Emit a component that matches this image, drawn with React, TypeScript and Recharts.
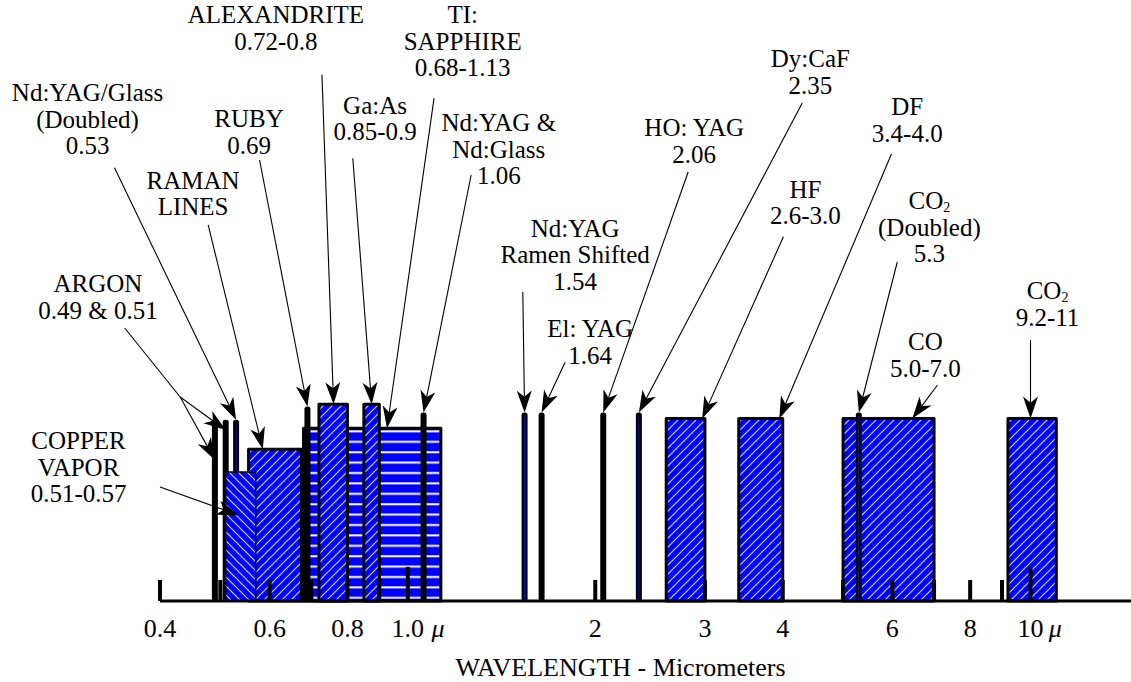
import React from 'react';
import { ComposedChart, XAxis, YAxis, ReferenceArea, ReferenceLine, ReferenceDot } from 'recharts';

// tunable lasers: band start / end in micrometers, bar height in relative units
const bandNames = ['TI: SAPPHIRE', 'RAMAN LINES', 'ALEXANDRITE', 'Ga:As', 'HF', 'DF', 'CO', 'CO2'];
const bandFrom = [0.68, 0.555, 0.72, 0.85, 2.6, 3.4, 5.0, 9.2];
const bandTo = [1.13, 0.675, 0.8, 0.9, 3.0, 4.0, 7.0, 11];
const bandHeight = [28.8, 25.3, 32.8, 32.8, 30.4, 30.4, 30.4, 30.4];

// copper vapor band sits in front of the argon / doubled lines
const copperFrom = 0.51;
const copperTo = 0.57;
const copperHeight = 21.5;

// single-line lasers
const lineNames = ['ARGON 0.49', 'ARGON 0.51', 'Nd:YAG/Glass doubled', 'RUBY', 'Nd:YAG & Nd:Glass', 'Nd:YAG Raman shifted', 'El: YAG', 'HO: YAG', 'Dy:CaF', 'CO2 doubled'];
const lineWave = [0.49, 0.51, 0.53, 0.69, 1.06, 1.54, 1.64, 2.06, 2.35, 5.3];
const lineHeight = [29.9, 30.2, 30.2, 32.4, 31.4, 31.4, 31.4, 31.4, 31.4, 31.4];

const tickValues = [0.4, 0.6, 0.8, 1, 2, 3, 4, 6, 8, 10];
const tickLabels = ['0.4', '0.6', '0.8', '1.0', '2', '3', '4', '6', '8', '10'];
const minorTicks = [0.4, 0.5, 0.6, 0.7, 0.8, 0.9, 2, 3, 4, 5, 6, 7, 8, 9];
const majorTicks = [1, 10];
const axisTitle = 'WAVELENGTH - Micrometers';

// callout text, one string per line ("_2" ends a line with subscript 2)
const noteText: string[][] = [
  ['ALEXANDRITE', '0.72-0.8'],
  ['TI:', 'SAPPHIRE', '0.68-1.13'],
  ['Nd:YAG/Glass', '(Doubled)', '0.53'],
  ['RUBY', '0.69'],
  ['Ga:As', '0.85-0.9'],
  ['Nd:YAG &', 'Nd:Glass', '1.06'],
  ['RAMAN', 'LINES'],
  ['Dy:CaF', '2.35'],
  ['HO: YAG', '2.06'],
  ['DF', '3.4-4.0'],
  ['HF', '2.6-3.0'],
  ['Nd:YAG', 'Ramen Shifted', '1.54'],
  ['CO_2', '(Doubled)', '5.3'],
  ['ARGON', '0.49 & 0.51'],
  ['El: YAG', '1.64'],
  ['CO_2', '9.2-11'],
  ['CO', '5.0-7.0'],
  ['COPPER', 'VAPOR', '0.51-0.57'],
];

// --- layout (axis units: µm, relative height) ---
const noteAt: [number, number][] = [
  [0.614, 96.3], [1.225, 96.3], [0.306, 83.3], [0.556, 79], [0.886, 81.2], [1.4, 78.3],
  [0.452, 68.7], [4.43, 89], [2.884, 77.5], [6.34, 81], [4.35, 67.2], [1.857, 60.7],
  [6.88, 65.3], [0.318, 51.5], [1.963, 44], [10.65, 50.3], [6.78, 41.8], [0.296, 25.3],
];

type Target = { band?: number; line?: number; copper?: boolean; x?: number; y?: number };
const arrows: { from: [number, number]; to: Target }[] = [
  { from: [0.728, 87.7], to: { band: 2, x: 0.76 } },
  { from: [1.102, 83.8], to: { band: 0, x: 0.926 } },
  { from: [0.338, 72.2], to: { line: 2 } },
  { from: [0.578, 73.5], to: { line: 3 } },
  { from: [0.816, 73.8], to: { band: 3, x: 0.875 } },
  { from: [1.264, 71], to: { line: 4 } },
  { from: [0.478, 62.7], to: { band: 1, x: 0.585 } },
  { from: [4.3, 83], to: { line: 8 } },
  { from: [2.82, 71.5], to: { line: 7 } },
  { from: [5.98, 74.5], to: { band: 5, x: 3.95 } },
  { from: [4.01, 60.7], to: { band: 4, x: 2.97 } },
  { from: [1.53, 51.5], to: { line: 5 } },
  { from: [6.11, 56.5], to: { line: 9 } },
  { from: [0.431, 34], to: { line: 0, y: 23.5 } },
  { from: [0.431, 34], to: { line: 1, y: 28.5 } },
  { from: [1.789, 39.8], to: { line: 6 } },
  { from: [10.0, 43.5], to: { band: 7, x: 10 } },
  { from: [7.09, 36], to: { band: 6, x: 6.46 } },
  { from: [0.4, 19], to: { copper: true, x: 0.535, y: 14.3 } },
];
const leaders: [number, number][][] = [[[0.351, 45.5], [0.431, 34]]];

const FONT = 'Liberation Serif, Times New Roman, serif';
const BLUE = '#0000ff';
const coredLines = new Set(['Nd:YAG/Glass doubled', 'Nd:YAG Raman shifted', 'Dy:CaF', 'CO2 doubled']);
const bandFill: Record<string, string> = { 'TI: SAPPHIRE': 'url(#hLines)' };
const textStyle = { fontFamily: FONT };

function targetPoint(t: Target): [number, number] {
  if (t.copper) return [t.x ?? (copperFrom + copperTo) / 2, t.y ?? copperHeight];
  if (t.band !== undefined) return [t.x ?? (bandFrom[t.band] + bandTo[t.band]) / 2, t.y ?? bandHeight[t.band]];
  const i = t.line as number;
  return [t.x ?? lineWave[i], t.y ?? lineHeight[i]];
}

const arrowShape = (p: any) => {
  const { x1, y1, x2, y2 } = p;
  const len = Math.hypot(x2 - x1, y2 - y1) || 1;
  const ux = (x2 - x1) / len, uy = (y2 - y1) / len;
  const L = 22, W = 7.5;
  const bx = x2 - ux * L, by = y2 - uy * L;
  const nx = x2 - ux * L * 0.72, ny = y2 - uy * L * 0.72;
  const pts = `${x2},${y2} ${bx - uy * W},${by + ux * W} ${nx},${ny} ${bx + uy * W},${by - ux * W}`;
  return (
    <g>
      <line x1={x1} y1={y1} x2={nx} y2={ny} stroke="#000" strokeWidth={1.1} />
      <polygon points={pts} fill="#000" />
    </g>
  );
};

const laserShape = (cored: boolean) => (p: any) => {
  const { x1, y1, y2 } = p;
  const top = Math.min(y1, y2), bottom = Math.max(y1, y2);
  return (
    <g>
      <rect x={x1 - 3} y={top} width={6} height={bottom - top} rx={2.5} fill="#000" />
      {cored && <line x1={x1} x2={x1} y1={top + 4} y2={bottom - 2} stroke="#1010d0" strokeWidth={0.9} />}
    </g>
  );
};

const noteShape = (lines: string[]) => (p: any) => (
  <g>
    {lines.map((ln, i) => (
      <text key={i} x={p.cx} y={p.cy + i * 26.5} textAnchor="middle" style={textStyle} fontSize={25} fill="#000">
        {ln.endsWith('_2') ? (
          <>
            {ln.slice(0, -2)}
            <tspan fontSize={14} dy={3}>2</tspan>
          </>
        ) : ln}
      </text>
    ))}
  </g>
);

function WaveTick({ x, y, payload }: any) {
  const i = tickValues.indexOf(payload.value);
  const label = i >= 0 ? tickLabels[i] : String(payload.value);
  const mu = payload.value === 1 || payload.value === 10;
  return (
    <g>
      <text x={x} y={y + 36} textAnchor="middle" style={textStyle} fontSize={26} fill="#000">{label}</text>
      {mu && (
        <text x={x + label.length * 5.6 + 7} y={y + 36} style={textStyle} fontSize={26} fontStyle="italic" fill="#000">μ</text>
      )}
    </g>
  );
}

export default function App() {
  return (
    <div style={{ position: 'absolute', left: 0, top: 0, background: '#fff' }}>
      <ComposedChart width={1131} height={682} margin={{ top: 1, right: 0, bottom: 0, left: 160 }}>
        <defs>
          <pattern id="hatchUp" patternUnits="userSpaceOnUse" width="9" height="9">
            <rect width="9" height="9" fill={BLUE} />
            <path d="M-1,1 l2,-2 M0,9 l9,-9 M8,10 l2,-2" stroke="#c9d2ff" strokeWidth="1.2" />
          </pattern>
          <pattern id="hatchDown" patternUnits="userSpaceOnUse" width="9" height="9">
            <rect width="9" height="9" fill={BLUE} />
            <path d="M-1,8 l2,2 M0,0 l9,9 M8,-1 l2,2" stroke="#c9d2ff" strokeWidth="1.2" />
          </pattern>
          <pattern id="hLines" patternUnits="userSpaceOnUse" width="10" height="10.4">
            <rect width="10" height="10.4" fill={BLUE} />
            <rect y="4" width="10" height="2" fill="#fff" />
          </pattern>
        </defs>
        <XAxis
          type="number"
          dataKey="x"
          scale="log"
          domain={[0.4, 14.5]}
          allowDataOverflow
          ticks={tickValues}
          interval={0}
          tick={<WaveTick />}
          tickLine={false}
          tickSize={0}
          tickMargin={0}
          axisLine={{ stroke: '#000', strokeWidth: 3 }}
          height={81}
          label={{
            content: (p: any) => {
              const vb = p.viewBox;
              return (
                <text x={vb.x + vb.width / 2 - 25} y={vb.y + vb.height - 6} textAnchor="middle" style={textStyle} fontSize={26} fill="#000">
                  {axisTitle}
                </text>
              );
            },
          }}
        />
        <YAxis type="number" domain={[0, 100]} allowDataOverflow hide />

        {bandNames.map((name, i) => (
          <ReferenceArea
            key={name}
            x1={bandFrom[i]}
            x2={bandTo[i]}
            y1={0}
            y2={bandHeight[i]}
            fill={bandFill[name] ?? 'url(#hatchUp)'}
            fillOpacity={1}
            stroke="#000"
            strokeWidth={3}
            strokeLinejoin="round"
            ifOverflow="visible"
          />
        ))}

        {lineNames.map((name, i) => (
          <ReferenceLine
            key={name}
            segment={[{ x: lineWave[i], y: 0 }, { x: lineWave[i], y: lineHeight[i] }]}
            shape={laserShape(coredLines.has(name))}
            ifOverflow="visible"
          />
        ))}

        <ReferenceArea
          x1={copperFrom}
          x2={copperTo}
          y1={0}
          y2={copperHeight}
          fill="url(#hatchDown)"
          fillOpacity={1}
          stroke="#000"
          strokeWidth={1.5}
          ifOverflow="visible"
          zIndex={450}
        />

        {minorTicks.map((t) => (
          <ReferenceLine key={`m${t}`} segment={[{ x: t, y: 0 }, { x: t, y: 3.5 }]} stroke="#000" strokeWidth={4} ifOverflow="visible" zIndex={500} />
        ))}
        {majorTicks.map((t) => (
          <ReferenceLine key={`M${t}`} segment={[{ x: t, y: 0 }, { x: t, y: 5.7 }]} stroke="#000" strokeWidth={4} ifOverflow="visible" zIndex={500} />
        ))}

        {leaders.map((seg, i) => (
          <ReferenceLine
            key={`l${i}`}
            segment={[{ x: seg[0][0], y: seg[0][1] }, { x: seg[1][0], y: seg[1][1] }]}
            stroke="#000"
            strokeWidth={1.1}
            ifOverflow="visible"
            zIndex={600}
          />
        ))}
        {arrows.map((a, i) => {
          const [tx, ty] = targetPoint(a.to);
          return (
            <ReferenceLine
              key={`a${i}`}
              segment={[{ x: a.from[0], y: a.from[1] }, { x: tx, y: ty }]}
              shape={arrowShape}
              ifOverflow="visible"
              zIndex={600}
            />
          );
        })}

        {noteText.map((lines, i) => (
          <ReferenceDot key={`n${i}`} x={noteAt[i][0]} y={noteAt[i][1]} r={0} shape={noteShape(lines)} ifOverflow="visible" />
        ))}
      </ComposedChart>
    </div>
  );
}
